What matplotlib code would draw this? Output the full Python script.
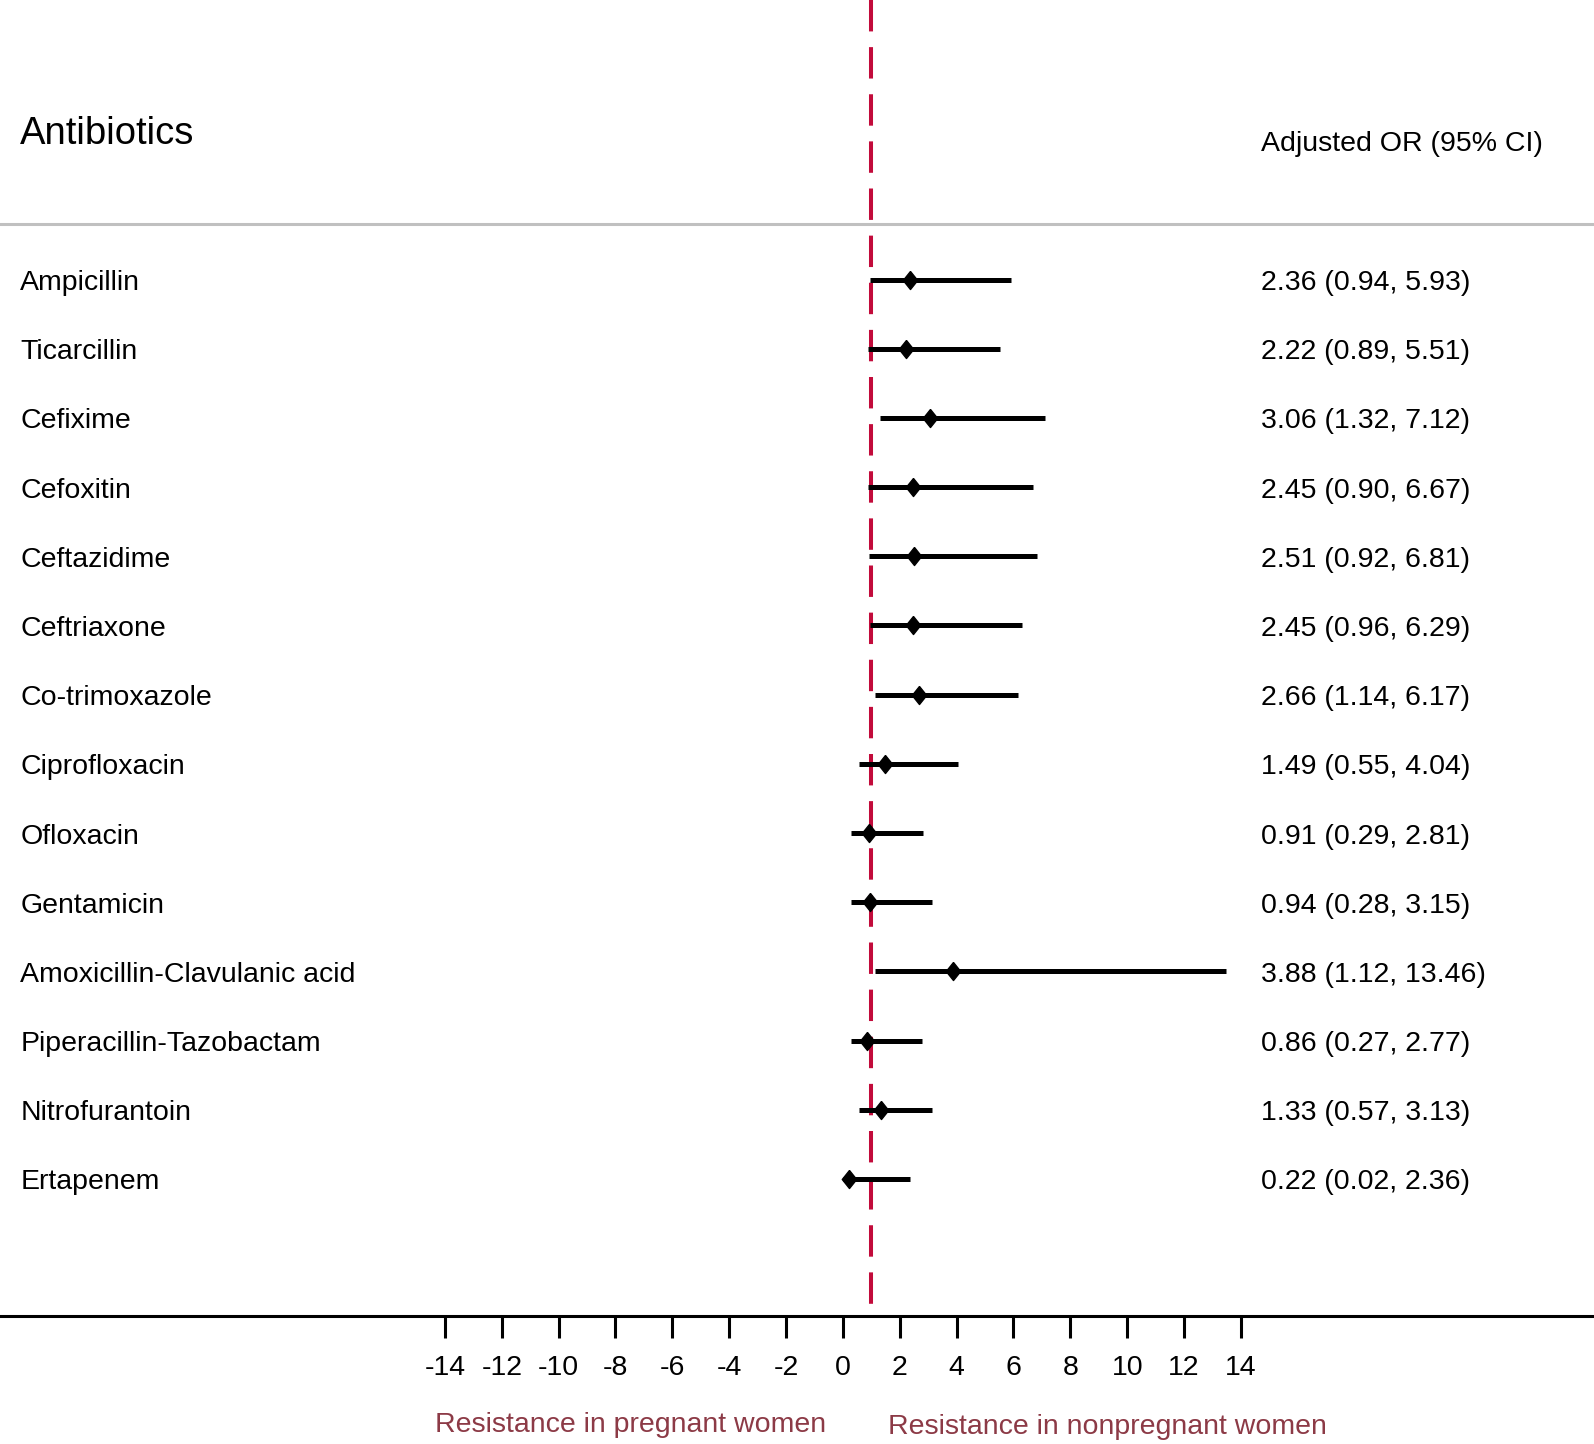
import numpy as np
import matplotlib
matplotlib.use("Agg")
import matplotlib.pyplot as plt

# 数据
antibiotics = ["Ampicillin", "Ticarcillin", "Cefixime", "Cefoxitin", "Ceftazidime",
               "Ceftriaxone", "Co-trimoxazole", "Ciprofloxacin", "Ofloxacin",
               "Gentamicin", "Amoxicillin-Clavulanic acid", "Piperacillin-Tazobactam",
               "Nitrofurantoin", "Ertapenem"]
adj_or = [2.36, 2.22, 3.06, 2.45, 2.51, 2.45, 2.66, 1.49, 0.91, 0.94, 3.88, 0.86, 1.33, 0.22]
ci_low = [0.94, 0.89, 1.32, 0.90, 0.92, 0.96, 1.14, 0.55, 0.29, 0.28, 1.12, 0.27, 0.57, 0.02]
ci_high = [5.93, 5.51, 7.12, 6.67, 6.81, 6.29, 6.17, 4.04, 2.81, 3.15, 13.46, 2.77, 3.13, 2.36]
x_ticks = list(range(-14, 15, 2))

plt.rcParams['font.family'] = ['Liberation Sans', 'DejaVu Sans']
plt.rcParams['axes.unicode_minus'] = False

fig = plt.figure(figsize=(15.94, 14.44), dpi=100)
ax = fig.add_axes([0, 0, 1, 1])

x_min, x_max = -29.65, 26.42
y_top, y_bot = -4.04, 16.83
axis_row = 14.98
ax.set_xlim(x_min, x_max)
ax.set_ylim(y_bot, y_top)

rows = np.arange(len(antibiotics))

# 参考线 OR=1
ax.plot([1, 1], [y_top, axis_row], color='#c20b3b', lw=2.9,
        dashes=(7.8, 3.9), zorder=1)

# 置信区间 + 点估计
diamond = [(0, 1), (0.8, 0), (0, -1), (-0.8, 0), (0, 1)]
ax.hlines(rows, ci_low, ci_high, color='black', lw=3.6, zorder=2)
ax.plot(adj_or, rows, ls='none', marker=diamond, ms=13, color='black', zorder=3)

# 文本
txt_left = -28.94
txt_right = 14.69
fs = 20.5
for i, name in enumerate(antibiotics):
    ax.text(txt_left, i + 0.05, name, fontsize=fs, ha='left', va='center')
    ax.text(txt_right, i + 0.05, f"{adj_or[i]:.2f} ({ci_low[i]:.2f}, {ci_high[i]:.2f})",
            fontsize=fs, ha='left', va='center')

ax.text(txt_left, -2.1, "Antibiotics", fontsize=27.5, ha='left', va='center')
ax.text(txt_right, -1.96, "Adjusted OR (95% CI)", fontsize=fs, ha='left', va='center')

# 表头分隔线
ax.axhline(-0.8, color='#c0c0c0', lw=2.2, zorder=0)

# x 轴
for s in ['top', 'left', 'right']:
    ax.spines[s].set_visible(False)
ax.spines['bottom'].set_position(('data', axis_row))
ax.spines['bottom'].set_linewidth(2.2)
ax.set_yticks([])
ax.set_xticks(x_ticks)
ax.set_xticklabels([str(t) for t in x_ticks])
ax.tick_params(axis='x', direction='out', length=16, width=2.2, pad=12, labelsize=fs)

ax.text(-0.6, 16.55, "Resistance in pregnant women", fontsize=fs, color='#8c3a46',
        ha='right', va='center')
ax.text(1.6, 16.58, "Resistance in nonpregnant women", fontsize=fs, color='#8c3a46',
        ha='left', va='center')

fig.savefig("out.png", dpi=100)
